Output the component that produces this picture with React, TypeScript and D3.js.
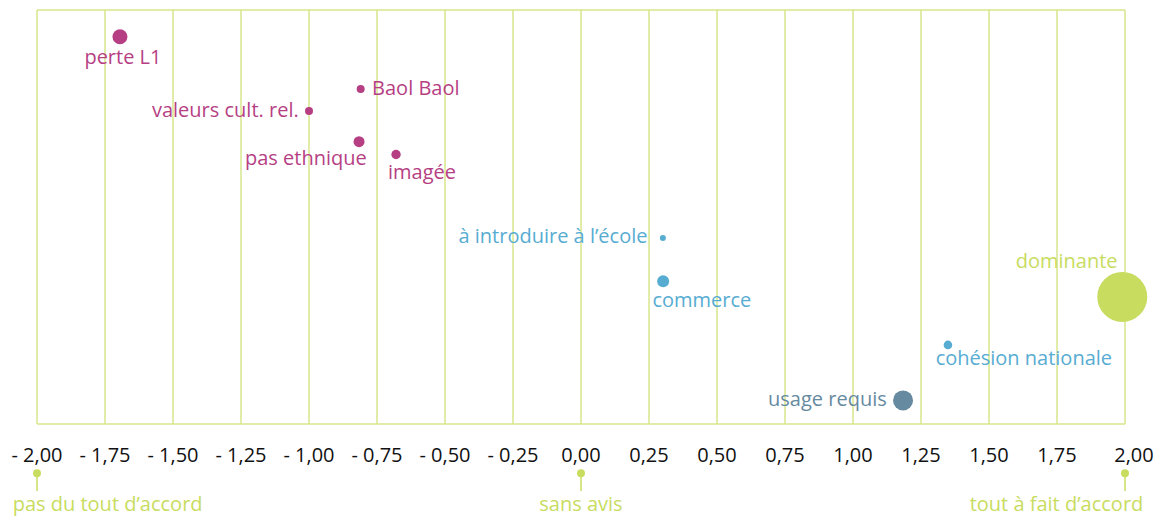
import React from "react";
import * as d3 from "d3";

// ---- data ----
const labels = [
  "perte L1",
  "Baol Baol",
  "valeurs cult. rel.",
  "pas ethnique",
  "imagée",
  "à introduire à l’école",
  "commerce",
  "dominante",
  "cohésion nationale",
  "usage requis",
];
// mean agreement score (-2 .. 2)
const scores = [-1.695, -0.81, -1.0, -0.816, -0.68, 0.301, 0.302, 1.99, 1.349, 1.184];
// vertical rank position (0 top .. 100 bottom)
const ranks = [6.45, 19.1, 24.4, 31.8, 34.9, 55.1, 65.5, 69.3, 80.9, 94.3];
// weight (bubble size)
const weights = [9, 2.56, 2.56, 4.84, 3.53, 1.44, 5.76, 100, 2.96, 16];
// group
const groups = ["neg", "neg", "neg", "neg", "neg", "pos", "pos", "dom", "pos", "req"];

const tickValues = [-2, -1.75, -1.5, -1.25, -1, -0.75, -0.5, -0.25, 0, 0.25, 0.5, 0.75, 1, 1.25, 1.5, 1.75, 2];
const anchorValues = [-2, 0, 2];
const anchorLabels = ["pas du tout d’accord", "sans avis", "tout à fait d’accord"];

// ---- styles / layout ----
const W = 1165;
const H = 516;
const colors: Record<string, string> = {
  neg: "#B63F84",
  pos: "#57ACD2",
  dom: "#C8DC60",
  req: "#668A9F",
};
const gridColor = "#D8E68C";
const FONT = "'Open Sans', sans-serif";
const FS = 20;

// label placement relative to the point center
const labelLayout: { dx: number; dy: number; anchor: string }[] = [
  { dx: 3, dy: 27.3, anchor: "middle" },
  { dx: 11.4, dy: 6, anchor: "start" },
  { dx: -10.3, dy: 6.3, anchor: "end" },
  { dx: 7.7, dy: 23, anchor: "end" },
  { dx: -8, dy: 24.7, anchor: "start" },
  { dx: -15.4, dy: 5, anchor: "end" },
  { dx: -10.7, dy: 25.7, anchor: "start" },
  { dx: -4.7, dy: -29.4, anchor: "end" },
  { dx: -12.3, dy: 20, anchor: "start" },
  { dx: -16.3, dy: 5.7, anchor: "end" },
];
const anchorLayout = [
  { dx: -24.3, anchor: "start" },
  { dx: 0, anchor: "middle" },
  { dx: 18.3, anchor: "end" },
];

const fmt = (v: number) => {
  const s = Math.abs(v).toFixed(2).replace(".", ",");
  return v < 0 ? "- " + s : s;
};

export default function App() {
  const x = d3.scaleLinear().domain([-2, 2]).range([37, 1125]);
  const y = d3.scaleLinear().domain([0, 100]).range([10, 424]);
  const r = d3.scaleSqrt().domain([0, 100]).range([0, 25]);
  const top = y(0);
  const bottom = y(100);

  return (
    <svg
      width={W}
      height={H}
      style={{ position: "absolute", left: 0, top: 0, background: "#fff" }}
      fontFamily={FONT}
    >
      {/* grid */}
      {tickValues.map((t, i) => (
        <line
          key={"g" + i}
          x1={x(t)}
          x2={x(t)}
          y1={top}
          y2={bottom}
          stroke={gridColor}
          strokeWidth={1.5}
        />
      ))}
      <line x1={x(-2)} x2={x(2)} y1={top} y2={top} stroke={gridColor} strokeWidth={1.5} />
      <line x1={x(-2)} x2={x(2)} y1={bottom} y2={bottom} stroke={gridColor} strokeWidth={1.5} />

      {/* tick labels */}
      {tickValues.map((t, i) => (
        <text
          key={"t" + i}
          x={x(t) + (i === tickValues.length - 1 ? 9 : 0)}
          y={461.7}
          textAnchor="middle"
          fontSize={FS}
          fill="#111"
        >
          {fmt(t)}
        </text>
      ))}

      {/* anchors */}
      {anchorValues.map((a, i) => (
        <g key={"a" + i}>
          <line x1={x(a)} x2={x(a)} y1={473} y2={491} stroke={colors.dom} strokeWidth={1.5} />
          <circle cx={x(a)} cy={473.3} r={4} fill={colors.dom} />
          <text
            x={x(a) + anchorLayout[i].dx}
            y={510.7}
            textAnchor={anchorLayout[i].anchor as any}
            fontSize={FS}
            fill={colors.dom}
          >
            {anchorLabels[i]}
          </text>
        </g>
      ))}

      {/* points */}
      {labels.map((l, i) => {
        const cx = x(scores[i]);
        const cy = y(ranks[i]);
        const c = colors[groups[i]];
        const lay = labelLayout[i];
        return (
          <g key={"p" + i}>
            <circle cx={cx} cy={cy} r={r(weights[i])} fill={c} />
            <text
              x={cx + lay.dx}
              y={cy + lay.dy}
              textAnchor={lay.anchor as any}
              fontSize={FS}
              fill={c}
            >
              {l}
            </text>
          </g>
        );
      })}
    </svg>
  );
}
